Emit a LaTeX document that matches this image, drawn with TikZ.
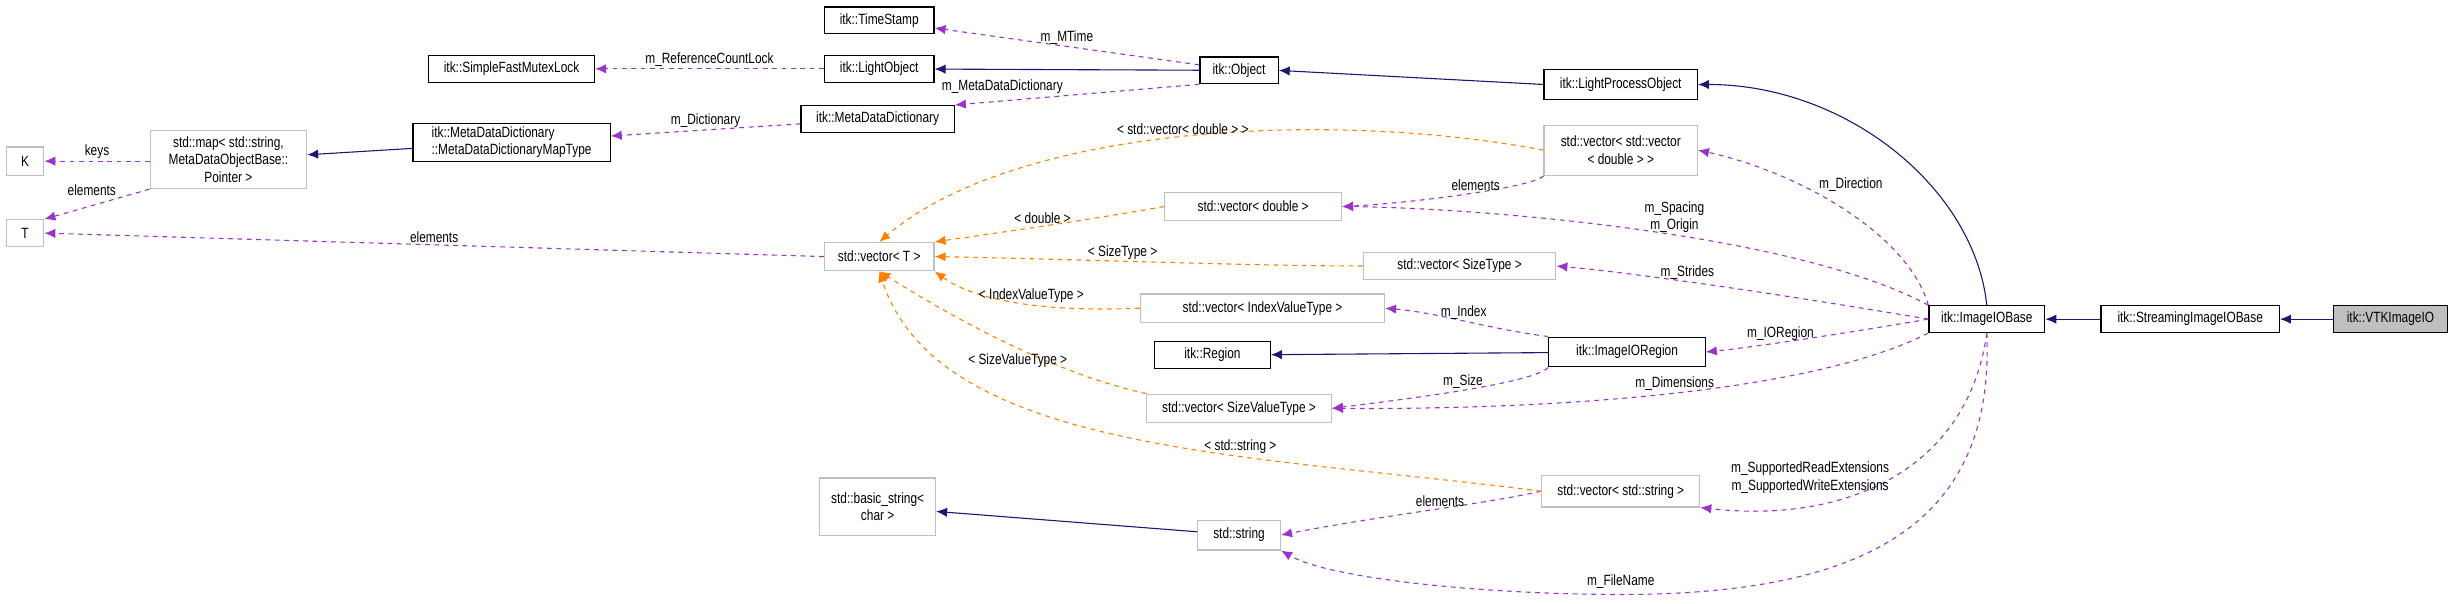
\documentclass[tikz,border=0pt]{standalone}
\usepackage{fontspec}
\setmainfont[FakeStretch=0.8]{Liberation Sans}
\usetikzlibrary{arrows.meta}
\definecolor{mempurple}{HTML}{9A32CD}
\definecolor{inhblue}{HTML}{191970}

\begin{document}
\begin{tikzpicture}[x=1pt,y=-1pt,
  font=\fontsize{9.5}{11}\selectfont,
  box/.style={draw=black,line width=0.8pt,inner sep=2pt,align=center},
  ext/.style={draw=black!25,line width=0.8pt,inner sep=2pt,align=center},
  cur/.style={box,fill=black!25},
  inh/.style={draw=inhblue,line width=0.7pt,-{Latex[length=7pt,width=6pt]}},
  mem/.style={draw=mempurple,dashed,line width=0.7pt,-{Latex[length=7pt,width=6pt]}},
  tpl/.style={draw=orange,dashed,line width=0.7pt,-{Latex[length=7pt,width=6pt]}},
  lbl/.style={align=center,inner sep=1pt}]
\useasboundingbox (0,0) rectangle (1568,386);

% classes
\node[box,minimum width=70,minimum height=17] (stamp) at (562,13) {itk::TimeStamp};
\node[box,minimum width=106,minimum height=17] (mutex) at (327,44) {itk::SimpleFastMutexLock};
\node[box,minimum width=70,minimum height=17] (light) at (562,44) {itk::LightObject};
\node[box,minimum width=50,minimum height=17] (object) at (792,45) {itk::Object};
\node[box,minimum width=98,minimum height=19] (lpo) at (1036,54) {itk::LightProcessObject};
\node[box,minimum width=98,minimum height=17] (mdd) at (561,76) {itk::MetaDataDictionary};
\node[box,minimum width=126,minimum height=24,align=left] (maptype) at (327,91) {itk::MetaDataDictionary\\::MetaDataDictionaryMapType};
\node[ext,minimum width=100,minimum height=37] (map) at (146,102) {std::map\textless{} std::string,\\MetaDataObjectBase::\\Pointer \textgreater};
\node[ext,minimum width=24,minimum height=18] (K) at (16,103) {K};
\node[ext,minimum width=24,minimum height=17] (T) at (16,149) {T};
\node[ext,minimum width=70,minimum height=18] (vecT) at (562,164) {std::vector\textless{} T \textgreater};
\node[ext,minimum width=98,minimum height=32] (vecvec) at (1036,96) {std::vector\textless{} std::vector\\\textless{} double \textgreater{} \textgreater};
\node[ext,minimum width=113,minimum height=18] (vecdbl) at (801,132) {std::vector\textless{} double \textgreater};
\node[ext,minimum width=123,minimum height=17] (vecsize) at (933,170) {std::vector\textless{} SizeType \textgreater};
\node[ext,minimum width=156,minimum height=18] (vecidx) at (807,197) {std::vector\textless{} IndexValueType \textgreater};
\node[box,minimum width=74,minimum height=17] (region) at (775,227) {itk::Region};
\node[box,minimum width=100,minimum height=19] (ioregion) at (1040,225) {itk::ImageIORegion};
\node[ext,minimum width=118,minimum height=18] (vecsval) at (792,261) {std::vector\textless{} SizeValueType \textgreater};
\node[ext,minimum width=101,minimum height=20] (vecstr) at (1036,314) {std::vector\textless{} std::string \textgreater};
\node[ext,minimum width=74,minimum height=37] (basic) at (561,324) {std::basic\_string\textless\\char \textgreater};
\node[ext,minimum width=53,minimum height=19] (string) at (792,342) {std::string};
\node[box,minimum width=74,minimum height=17] (iobase) at (1270,204) {itk::ImageIOBase};
\node[box,minimum width=114,minimum height=17] (stream) at (1400,204) {itk::StreamingImageIOBase};
\node[cur,minimum width=73,minimum height=17] (vtk) at (1528,204) {itk::VTKImageIO};

% inheritance
\draw[inh] (object) -- (light);
\draw[inh] (lpo.west) -- (object.east);
\draw[inh] (maptype) -- (map);
\draw[inh] (ioregion) -- (region);
\draw[inh] (string) -- (basic);
\draw[inh] (stream) -- (iobase);
\draw[inh] (vtk) -- (stream);
\draw[inh] (iobase.north) .. controls (1262,120) and (1180,54) .. (lpo.east);

% members
\draw[mem] (object) -- node[lbl,above] {m\_MTime} (stamp);
\draw[mem] (light) -- node[lbl,above] {m\_ReferenceCountLock} (mutex);
\draw[mem] (object.south west) -- node[lbl,above left,pos=0.55] {m\_MetaDataDictionary} (mdd.north east);
\draw[mem] (mdd) -- node[lbl,above] {m\_Dictionary} (maptype);
\draw[mem] (map.west |- K) -- node[lbl,above] {keys} (K);
\draw[mem] (map.south west) -- node[lbl,above left,pos=0.3] {elements} (T.north east);
\draw[mem] (vecT.west) -- node[lbl,above] {elements} (T.east);
\draw[mem] (vecvec.south west) .. controls (980,120) and (900,130) .. node[lbl,above,pos=0.45] {elements} (vecdbl.east);
\draw[mem] (iobase.north west) .. controls (1220,150) and (1150,110) .. node[lbl,pos=0.6,above right] {m\_Direction} (vecvec.east);
\draw[mem] (iobase.north west) .. controls (1150,150) and (950,133) .. node[lbl,pos=0.45,above] {m\_Spacing\\m\_Origin} (vecdbl.east);
\draw[mem] (iobase.west) .. controls (1150,190) and (1050,175) .. node[lbl,pos=0.6,above] {m\_Strides} (vecsize.east);
\draw[mem] (ioregion.north west) .. controls (950,210) and (920,200) .. node[lbl,above] {m\_Index} (vecidx.east);
\draw[mem] (iobase.west) .. controls (1180,213) and (1120,222) .. node[lbl,above,pos=0.6] {m\_IORegion} (ioregion.east);
\draw[mem] (ioregion.south west) .. controls (980,245) and (900,255) .. node[lbl,above,pos=0.5] {m\_Size} (vecsval.east);
\draw[mem] (iobase.south west) .. controls (1160,250) and (1000,262) .. node[lbl,above,pos=0.5] {m\_Dimensions} (vecsval.east);
\draw[mem] (iobase.south) .. controls (1258,300) and (1180,335) .. node[lbl,pos=0.5,left] {m\_SupportedReadExtensions\\m\_SupportedWriteExtensions} (vecstr.south east);
\draw[mem] (vecstr.west) .. controls (950,322) and (880,330) .. node[lbl,above,pos=0.45] {elements} (string.east);
\draw[mem] (iobase.south) .. controls (1275,330) and (1200,380) .. (1036,380) .. controls (950,380) and (850,370) .. (string.south east);
\node[lbl] (filename) at (1036,372) {m\_FileName};

% template arguments
\draw[tpl] (vecvec.west) .. controls (850,70) and (650,80) .. node[lbl,pos=0.5,above] {\textless{} std::vector\textless{} double \textgreater{} \textgreater} (vecT.north);
\draw[tpl] (vecdbl.west) .. controls (700,140) and (630,150) .. node[lbl,above,pos=0.5] {\textless{} double \textgreater} (vecT.north east);
\draw[tpl] (vecsize.west) .. controls (800,170) and (700,166) .. node[lbl,above,pos=0.6] {\textless{} SizeType \textgreater} (vecT.east);
\draw[tpl] (vecidx.west) .. controls (660,200) and (620,190) .. node[lbl,above,pos=0.4] {\textless{} IndexValueType \textgreater} (vecT.south east);
\draw[tpl] (vecsval.north west) .. controls (680,240) and (620,210) .. node[lbl,above left,pos=0.3] {\textless{} SizeValueType \textgreater} (vecT.south);
\draw[tpl] (vecstr.west) .. controls (800,290) and (600,290) .. node[lbl,above,pos=0.35] {\textless{} std::string \textgreater} (vecT.south);
\end{tikzpicture}
\end{document}
